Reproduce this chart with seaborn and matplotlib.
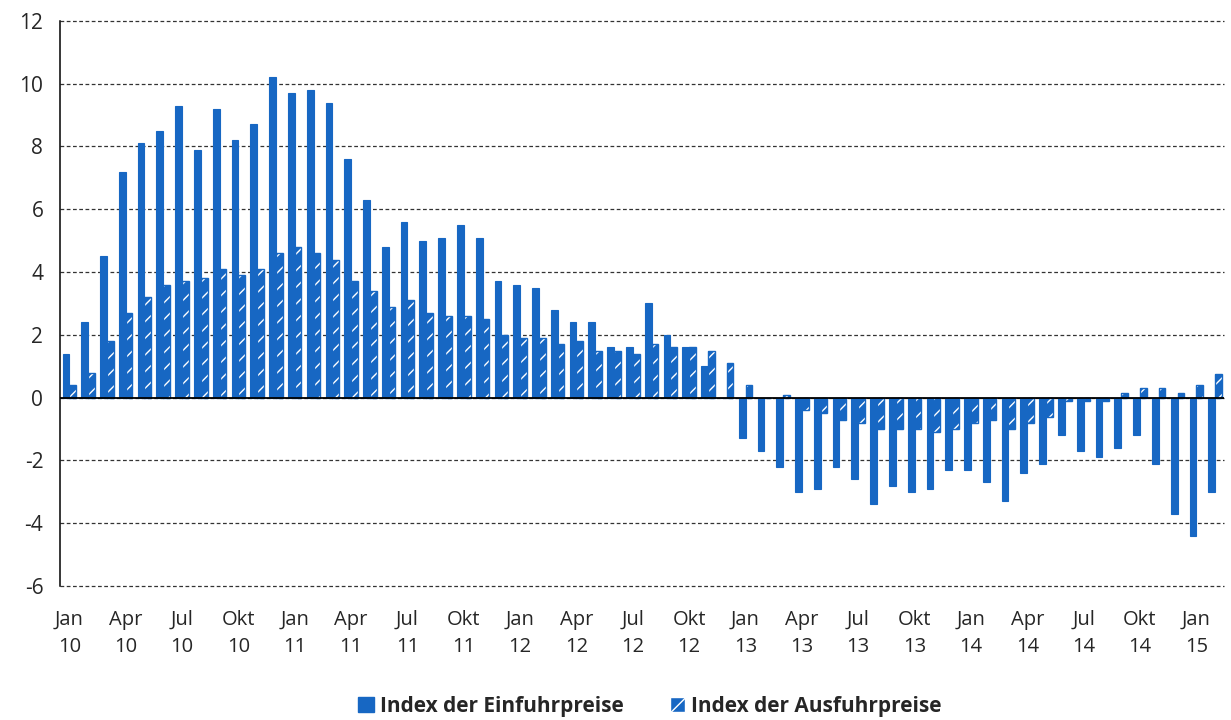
import pandas as pd
import matplotlib.pyplot as plt
import seaborn as sns
from matplotlib.patches import Rectangle, Patch

# Veränderung gegenüber Vorjahresmonat in %, Jan 2010 - Feb 2015
monate = ['Jan', 'Feb', 'Mär', 'Apr', 'Mai', 'Jun', 'Jul', 'Aug', 'Sep', 'Okt', 'Nov', 'Dez']
jahre = ['10', '11', '12', '13', '14', '15']

einfuhr = [1.4, 2.4, 4.5, 7.2, 8.1, 8.5, 9.3, 7.9, 9.2, 8.2, 8.7, 10.2,
           9.7, 9.8, 9.4, 7.6, 6.3, 4.8, 5.6, 5.0, 5.1, 5.5, 5.1, 3.7,
           3.6, 3.5, 2.8, 2.4, 2.4, 1.6, 1.6, 3.0, 2.0, 1.6, 1.0, 0.0,
           -1.3, -1.7, -2.2, -3.0, -2.9, -2.2, -2.6, -3.4, -2.8, -3.0, -2.9, -2.3,
           -2.3, -2.7, -3.3, -2.4, -2.1, -1.2, -1.7, -1.9, -1.6, -1.2, -2.1, -3.7,
           -4.4, -3.0]
ausfuhr = [0.4, 0.8, 1.8, 2.7, 3.2, 3.6, 3.7, 3.8, 4.1, 3.9, 4.1, 4.6,
           4.8, 4.6, 4.4, 3.7, 3.4, 2.9, 3.1, 2.7, 2.6, 2.6, 2.5, 2.0,
           1.9, 1.9, 1.7, 1.8, 1.5, 1.5, 1.4, 1.7, 1.6, 1.6, 1.5, 1.1,
           0.4, 0.0, 0.1, -0.4, -0.5, -0.7, -0.8, -1.0, -1.0, -1.0, -1.1, -1.0,
           -0.8, -0.7, -1.0, -0.8, -0.6, -0.1, -0.1, -0.1, 0.15, 0.3, 0.3, 0.15,
           0.4, 0.75]

labels = [f'{monate[i % 12]} {jahre[i // 12]}' for i in range(len(einfuhr))]
ser_ein = 'Index der Einfuhrpreise'
ser_aus = 'Index der Ausfuhrpreise'

df = pd.DataFrame({
    'monat': labels * 2,
    'wert': einfuhr + ausfuhr,
    'reihe': [ser_ein] * len(einfuhr) + [ser_aus] * len(ausfuhr),
})

blau = '#1767C3'

sns.set_style('white')
plt.rcParams['font.family'] = ['Open Sans', 'DejaVu Sans']
plt.rcParams['axes.unicode_minus'] = False

fig = plt.figure(figsize=(12.31, 7.2), dpi=100)
ax = fig.add_axes([0.0487, 0.186, 0.946, 0.785])

sns.barplot(data=df, x='monat', y='wert', hue='reihe', order=labels,
            hue_order=[ser_ein, ser_aus], palette=[blau, blau],
            width=0.72, ax=ax, legend=False, saturation=1,
            edgecolor=blau, linewidth=0.8)

n = len(einfuhr)
for p in ax.patches[n:2 * n]:
    p.set_hatch('//')
    p.set_edgecolor('white')
    p.set_linewidth(0)
    ax.add_patch(Rectangle(p.get_xy(), p.get_width(), p.get_height(),
                           facecolor='none', edgecolor=blau, linewidth=1.0))

ax.set_ylim(-6, 12)
ax.set_xlim(-0.5, n - 0.5)
ax.set_yticks(range(-6, 13, 2))
ax.yaxis.grid(True, linestyle=(0, (3, 2)), color='#333333', linewidth=0.9)
for gl in ax.get_ygridlines():
    gl.set_clip_on(False)
ax.set_axisbelow(True)
ax.axhline(0, color='black', linewidth=1.3, zorder=5)

ticks = list(range(0, n, 3))
ax.set_xticks(ticks)
ax.set_xticklabels([labels[i].replace(' ', '\n') for i in ticks],
                   fontsize=14.5, linespacing=1.5)
ax.tick_params(axis='x', length=0, pad=17)
ax.tick_params(axis='y', labelsize=15, length=8, color='#777777', pad=4)
ax.set_xlabel('')
ax.set_ylabel('')

for s in ['top', 'right', 'bottom']:
    ax.spines[s].set_visible(False)
ax.spines['left'].set_color('black')
ax.spines['left'].set_linewidth(1.1)

handles = [Patch(facecolor=blau, edgecolor=blau),
           Patch(facecolor=blau, edgecolor='white', hatch='//')]
fig.legend(handles, [ser_ein, ser_aus], loc='lower center', ncol=2,
           frameon=False, bbox_to_anchor=(0.528, -0.022),
           prop={'size': 15, 'weight': 'bold'},
           handlelength=0.75, handleheight=0.75, handletextpad=0.3,
           columnspacing=2.2)

fig.savefig('out.png', dpi=100)
